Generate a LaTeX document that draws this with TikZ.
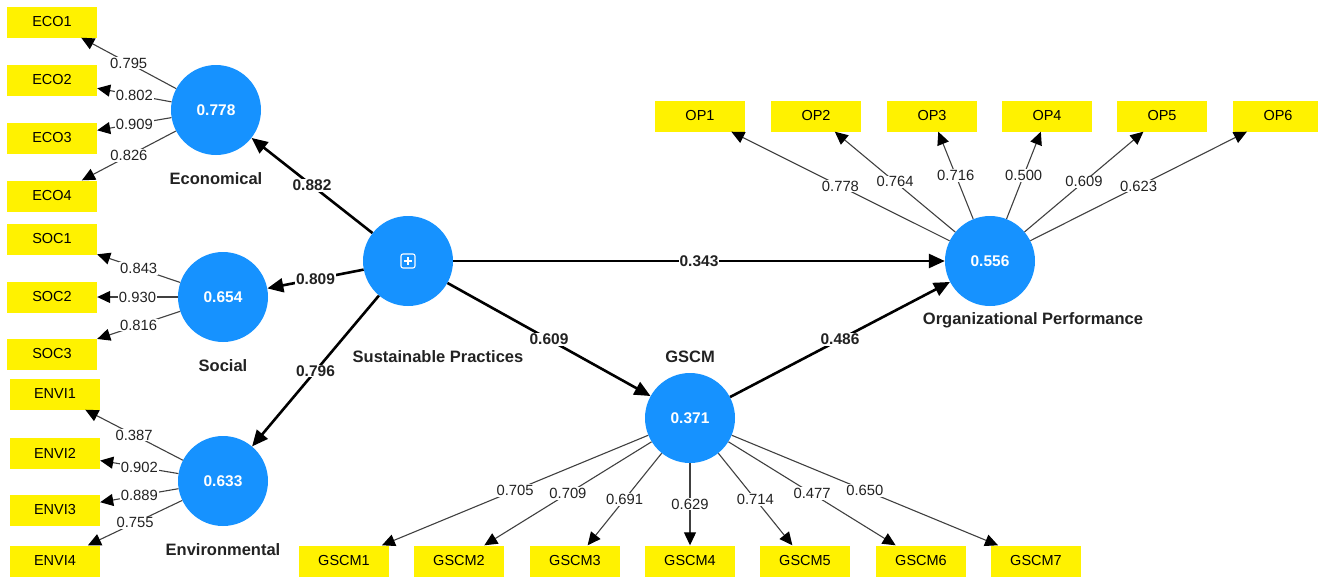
\documentclass[tikz,border=0pt]{standalone}
\usepackage{fontspec}
\setmainfont{Liberation Sans}
\usetikzlibrary{arrows.meta}

\definecolor{lvblue}{RGB}{22,146,255}
\definecolor{txtgray}{RGB}{34,34,34}

\tikzset{
  ind/.style={fill=yellow,minimum width=90pt,minimum height=31pt,inner sep=0pt,font=\fontsize{14.5}{16}\selectfont},
  lv/.style={circle,fill=lvblue,minimum size=90pt,inner sep=0pt,text=white,font=\fontsize{15.5}{17}\selectfont\bfseries},
  lbl/.style={text=txtgray,font=\fontsize{16.5}{18}\selectfont\bfseries},
  ld/.style={draw=black!75,line width=1.1pt,-{Triangle[length=13pt,width=12pt,fill=black,color=black]}},
  pth/.style={draw=black,line width=2.6pt,-{Triangle[length=16pt,width=14pt]}},
  val/.style={fill=white,inner sep=1pt,text=txtgray,font=\fontsize{14.8}{16}\selectfont},
  pval/.style={fill=white,inner sep=1pt,text=txtgray,font=\fontsize{15.5}{17}\selectfont\bfseries}
}

\begin{document}
\begin{tikzpicture}[x=1pt,y=-1pt]
\useasboundingbox (0,0) rectangle (1318,576);

% latent variables
\node[lv] (eco) at (216,110) {0.778};
\node[lv] (soc) at (223,297) {0.654};
\node[lv] (env) at (223,481) {0.633};
\node[lv] (sp) at (408,261) {};
\node[lv] (gscm) at (690,418) {0.371};
\node[lv] (op) at (990,261) {0.556};

\node[lbl] (ecoL) at (216,179) {Economical};
\node[lbl] (socL) at (223,366) {Social};
\node[lbl] (envL) at (223,550) {Environmental};
\node[lbl] (spL) at (438,357) {Sustainable Practices};
\node[lbl] (gscmL) at (690,357) {GSCM};
\node[lbl] (opL) at (1033,320) {Organizational Performance};

% higher-order marker
\draw[white,line width=1.1pt,rounded corners=2pt] ([shift={(-7,-7)}]sp.center) rectangle ([shift={(7,7)}]sp.center);
\draw[white,line width=1.1pt] ([shift={(-4,0)}]sp.center) -- ([shift={(4,0)}]sp.center);
\draw[white,line width=1.1pt] ([shift={(0,-4)}]sp.center) -- ([shift={(0,4)}]sp.center);

% indicators
\foreach \i/\y/\v in {1/22/0.795,2/80/0.802,3/138/0.909,4/196/0.826} {
  \node[ind] (eco\i) at (52,\y) {ECO\i};
  \draw[ld] (eco) -- node[val] {\v} (eco\i);
}
\foreach \i/\y/\v in {1/239/0.843,2/297/0.930,3/354/0.816} {
  \node[ind] (soc\i) at (52,\y) {SOC\i};
  \draw[ld] (soc) -- node[val] {\v} (soc\i);
}
\foreach \i/\y/\v in {1/394/0.387,2/453/0.902,3/510/0.889,4/561/0.755} {
  \node[ind] (env\i) at (55,\y) {ENVI\i};
  \draw[ld] (env) -- node[val] {\v} (env\i);
}
\foreach \i/\x/\v in {1/700/0.778,2/816/0.764,3/932/0.716,4/1047/0.500,5/1162/0.609,6/1278/0.623} {
  \node[ind] (op\i) at (\x,116) {OP\i};
  \draw[ld] (op) -- node[val] {\v} (op\i);
}
\foreach \i/\x/\v in {1/344/0.705,2/459/0.709,3/575/0.691,4/690/0.629,5/805/0.714,6/921/0.477,7/1036/0.650} {
  \node[ind] (gscm\i) at (\x,561) {GSCM\i};
  \draw[ld] (gscm) -- node[val] {\v} (gscm\i);
}

% structural paths
\draw[pth] (sp) -- node[pval] {0.882} (eco);
\draw[pth] (sp) -- node[pval] {0.809} (soc);
\draw[pth] (sp) -- node[pval] {0.796} (env);
\draw[pth] (sp) -- node[pval] {0.343} (op);
\draw[pth] (sp) -- node[pval] {0.609} (gscm);
\draw[pth] (gscm) -- node[pval] {0.486} (op);

\end{tikzpicture}
\end{document}
